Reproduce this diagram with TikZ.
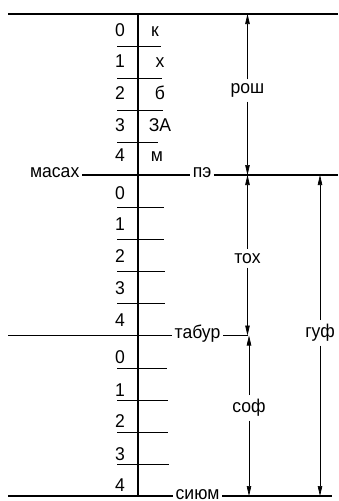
\documentclass[tikz,border=0pt]{standalone}
\usepackage{fontspec}
\setmainfont[FakeStretch=0.95]{Liberation Sans}
\usetikzlibrary{arrows.meta}

\tikzset{
  lbl/.style={font=\fontsize{18.5}{22}\selectfont, inner sep=0pt},
  digit/.style={lbl, anchor=base},
  onrule/.style={lbl, inner sep=2.5pt, anchor=mid},
  dimlbl/.style={lbl, inner sep=4pt, anchor=mid},
  dimline/.style={line width=0.7pt, -{Triangle[length=10pt,width=4.5pt]}},
  tick/.style={line width=1.2pt}
}

\begin{document}
\begin{tikzpicture}[x=1pt, y=-1pt]
\useasboundingbox (0,0) rectangle (338,501);
\coordinate (tl) at (8,14);
\coordinate (tr) at (338,14);
\coordinate (vt) at (138,14);
\coordinate (vb) at (138,497);
\draw[line width=2.4pt] (tl) -- (tr);
\draw[line width=1.6pt] (vt) -- (vb);
\begin{scope}[shift={(0,14)}]
\draw[tick] (117,32.5) -- (161,32.5);
\draw[tick] (117,64.5) -- (162,64.5);
\draw[tick] (117,96.5) -- (163,96.5);
\draw[tick] (117,128.5) -- (158,128.5);
\node[digit] (t0) at (120,22) {0};
\node[digit] (t1) at (120,53) {1};
\node[digit] (t2) at (120,85) {2};
\node[digit] (t3) at (120,117) {3};
\node[digit] (t4) at (120,147) {4};
\node[digit] (tk) at (155,22) {к};
\node[digit] (tx) at (160,53) {х};
\node[digit] (tb) at (160,85) {б};
\node[digit] (tz) at (160,117) {ЗА};
\node[digit] (tm) at (157,147) {м};
\end{scope}
\begin{scope}[shift={(0,175)}]
\draw[tick] (117,32.5) -- (164,32.5);
\draw[tick] (117,64.5) -- (164,64.5);
\draw[tick] (117,96.5) -- (165,96.5);
\draw[tick] (117,128.5) -- (165,128.5);
\node[digit] (m0) at (120,24.3) {0};
\node[digit] (m1) at (120,55.7) {1};
\node[digit] (m2) at (120,87.7) {2};
\node[digit] (m3) at (120,119) {3};
\node[digit] (m4) at (120,151.7) {4};
\end{scope}
\begin{scope}[shift={(0,335.5)}]
\draw[tick] (117,33) -- (167,33);
\draw[tick] (117,65) -- (168,65);
\draw[tick] (117,97) -- (168,97);
\draw[tick] (117,129) -- (169,129);
\node[digit] (b0) at (120,27.8) {0};
\node[digit] (b1) at (120,60.5) {1};
\node[digit] (b2) at (120,92.2) {2};
\node[digit] (b3) at (120,124.5) {3};
\node[digit] (b4) at (120,156.2) {4};
\end{scope}
\node[onrule, anchor=mid east] (masax) at (82,175) {масах};
\node[onrule] (pe) at (202,175) {пэ};
\coordinate (per) at (338,175);
\draw[line width=2.6pt] (masax.mid east) -- (pe.mid west);
\draw[line width=2.6pt] (pe.mid east) -- (per);
\node[onrule] (tabur) at (197.5,335.5) {табур};
\coordinate (tabl) at (8,335.5);
\coordinate (tabr) at (248,335.5);
\draw[line width=1.3pt] (tabl) -- (tabur.mid west);
\draw[line width=1.3pt] (tabur.mid east) -- (tabr);
\node[onrule] (sium) at (197.5,496.5) {сиюм};
\coordinate (siuml) at (8,496);
\coordinate (siumr) at (332,496);
\draw[line width=1.8pt] (siuml) -- (sium.mid west |- siuml);
\draw[line width=1.8pt] (sium.mid east |- siumr) -- (siumr);
\coordinate (a1) at (245,14);
\coordinate (a2) at (245,175);
\coordinate (a3) at (245,335.5);
\coordinate (a4) at (245,496);
\coordinate (g1) at (320,175);
\coordinate (g2) at (320,496);
\node[dimlbl] (rosh) at (247.5,91) {рош};
\node[dimlbl] (tox) at (247.5,260.5) {тох};
\node[dimlbl] (sof) at (249,410) {соф};
\node[dimlbl] (guf) at (320,335) {гуф};
\draw[dimline] (rosh) -- (rosh |- a1);
\draw[dimline] (rosh) -- (rosh |- a2);
\draw[dimline] (tox) -- (tox |- a2);
\draw[dimline] (tox) -- (tox |- a3);
\draw[dimline] (sof) -- (sof |- a3);
\draw[dimline] (sof) -- (sof |- a4);
\draw[dimline] (guf) -- (g1);
\draw[dimline] (guf) -- (g2);
\end{tikzpicture}
\end{document}
